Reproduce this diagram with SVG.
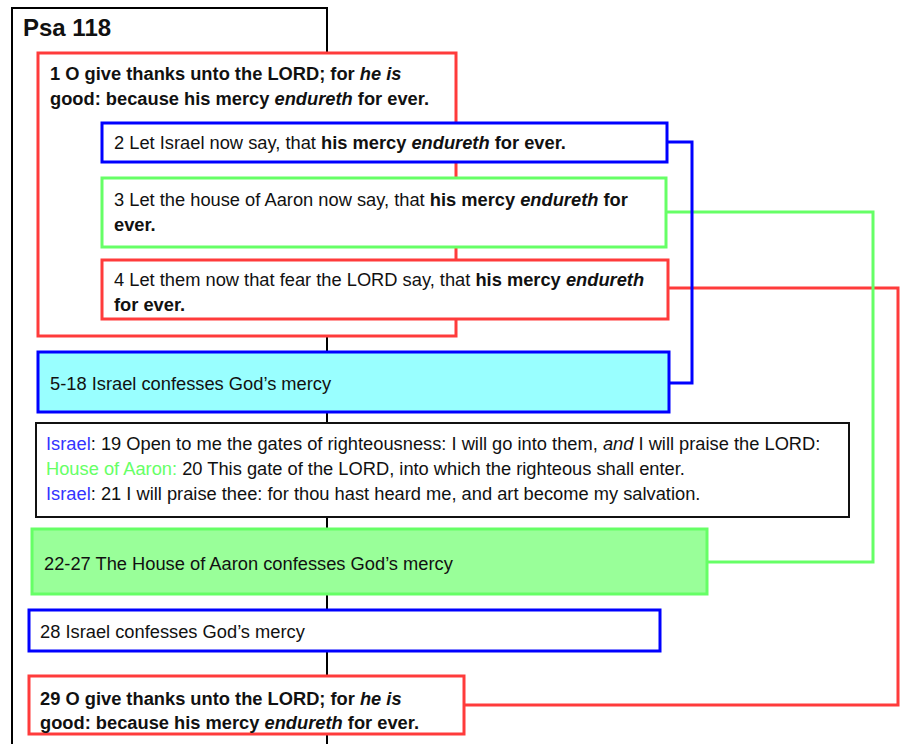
<svg xmlns="http://www.w3.org/2000/svg" width="900" height="744" viewBox="0 0 900 744">
<style>
text{font-family:"Liberation Sans",Arial,sans-serif;font-size:18.3px;fill:#111;}
.t{font-size:24px;font-weight:bold;}
.b{font-weight:bold;}
.i{font-style:italic;}
.red{fill:#fff;stroke:#FF3B3B;stroke-width:3;}
.blue{fill:#fff;stroke:#0000FF;stroke-width:3;}
.green{fill:#fff;stroke:#66FF66;stroke-width:3;}
.conn{fill:none;stroke-width:3;}
.isr{fill:#3333FF;}
.hoa{fill:#66FF66;}
</style>
<rect width="900" height="744" fill="#fff"/>
<g id="frame">
<rect x="12" y="8" width="315" height="760" fill="#fff" stroke="#000" stroke-width="2"/>
<text class="t" x="23" y="36">Psa 118</text>
</g>
<g id="connectors">
<path class="conn" stroke="#FF3B3B" d="M669,288 H898 V705 H465"/>
<path class="conn" stroke="#66FF66" d="M667,212 H873 V562 H707"/>
<path class="conn" stroke="#0000FF" d="M668,142 H692 V383 H669"/>
</g>
<g id="v1">
<rect class="red" x="38" y="53" width="418" height="283"/>
<text class="b" x="50" y="80">1 O give thanks unto the LORD; for <tspan class="i">he is</tspan></text>
<text class="b" x="50" y="105">good: because his mercy <tspan class="i">endureth</tspan> for ever.</text>
</g>
<g id="v2">
<rect class="blue" x="102" y="123" width="565" height="39"/>
<text x="114" y="149">2 Let Israel now say, that <tspan class="b">his mercy <tspan class="i">endureth</tspan> for ever.</tspan></text>
</g>
<g id="v3">
<rect class="green" x="102" y="178" width="564" height="69"/>
<text x="114" y="206">3 Let the house of Aaron now say, that <tspan class="b">his mercy <tspan class="i">endureth</tspan> for</tspan></text>
<text class="b" x="114" y="231">ever.</text>
</g>
<g id="v4">
<rect class="red" x="102" y="260" width="566" height="59"/>
<text x="114" y="286">4 Let them now that fear the LORD say, that <tspan class="b">his mercy <tspan class="i">endureth</tspan></tspan></text>
<text class="b" x="114" y="311">for ever.</text>
</g>
<g id="v5-18">
<rect x="38" y="352" width="631" height="60" fill="#99FFFF" stroke="#0000FF" stroke-width="3"/>
<text x="50" y="390">5-18 Israel confesses God’s mercy</text>
</g>
<g id="v19-21">
<rect x="36" y="423" width="813" height="94" fill="#fff" stroke="#111" stroke-width="2"/>
<text x="46" y="450"><tspan class="isr">Israel</tspan>: 19 Open to me the gates of righteousness: I will go into them, <tspan class="i">and</tspan> I will praise the LORD:</text>
<text x="46" y="475"><tspan class="hoa">House of Aaron:</tspan> 20 This gate of the LORD, into which the righteous shall enter.</text>
<text x="46" y="500"><tspan class="isr">Israel</tspan>: 21 I will praise thee: for thou hast heard me, and art become my salvation.</text>
</g>
<g id="v22-27">
<rect x="32" y="529" width="675" height="65" fill="#99FF99" stroke="#66FF66" stroke-width="3"/>
<text x="44" y="570">22-27 The House of Aaron confesses God’s mercy</text>
</g>
<g id="v28">
<rect class="blue" x="29" y="610" width="631" height="41"/>
<text x="40" y="638">28 Israel confesses God’s mercy</text>
</g>
<g id="v29">
<rect class="red" x="29" y="676" width="435" height="58"/>
<text class="b" x="40" y="705">29 O give thanks unto the LORD; for <tspan class="i">he is</tspan></text>
<text class="b" x="40" y="729">good: because his mercy <tspan class="i">endureth</tspan> for ever.</text>
</g>
</svg>
